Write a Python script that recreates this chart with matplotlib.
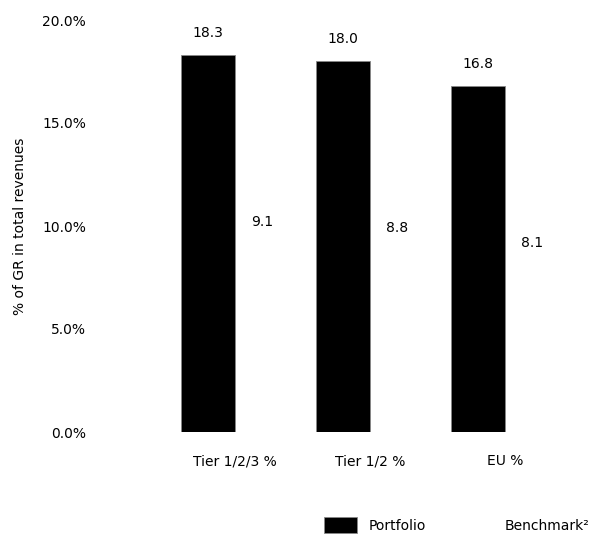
import matplotlib
matplotlib.use("Agg")
import matplotlib.pyplot as plt
import numpy as np
from matplotlib.ticker import FuncFormatter

categories = ["Tier 1/2/3 %", "Tier 1/2 %", "EU %"]
portfolio = [18.3, 18.0, 16.8]
benchmark = [9.1, 8.8, 8.1]
series_names = ["Portfolio", "Benchmark²"]
y_ticks = [0, 5, 10, 15, 20]

plt.rcParams['font.family'] = ['DejaVu Sans']

fig = plt.figure(figsize=(6.15, 5.4), dpi=100)
ax = fig.add_axes([100/615, 108/540, 500/615, 412/540])

x = np.arange(len(categories))
w = 0.4
b2 = ax.bar(x + w/2, benchmark, w, color='white', edgecolor='none', linewidth=0,
            label=series_names[1], zorder=1)
b1 = ax.bar(x - w/2, portfolio, w, color='black', edgecolor='#888888', linewidth=0.6,
            label=series_names[0], zorder=2)

for xi, v in zip(x - w/2, portfolio):
    ax.annotate(f"{v:.1f}", (xi, v), xytext=(0, 11), textcoords='offset points',
                ha='center', va='bottom', fontsize=10)
for xi, v in zip(x + w/2, benchmark):
    ax.annotate(f"{v:.1f}", (xi, v), xytext=(0, 11), textcoords='offset points',
                ha='center', va='bottom', fontsize=10)

ax.set_xlim(-1, 2.7)
ax.set_ylim(0, 20)
ax.set_yticks(y_ticks)
ax.yaxis.set_major_formatter(FuncFormatter(lambda v, p: f"{v:.1f}%"))
ax.set_xticks(x)
ax.set_xticklabels(categories)
ax.tick_params(axis='both', length=0, labelsize=10)
ax.tick_params(axis='x', pad=16)
ax.tick_params(axis='y', pad=10)
for s in ax.spines.values():
    s.set_visible(False)

ax.set_ylabel("% of GR in total revenues", fontsize=10, labelpad=11)

leg = fig.legend(handles=[b1, b2], labels=series_names, loc='center',
                 bbox_to_anchor=(457/615, 1 - 525/540), ncol=2, frameon=False,
                 fontsize=10, handlelength=2.4, handleheight=1.3, columnspacing=2.5)

fig.savefig("out.png", dpi=100)
